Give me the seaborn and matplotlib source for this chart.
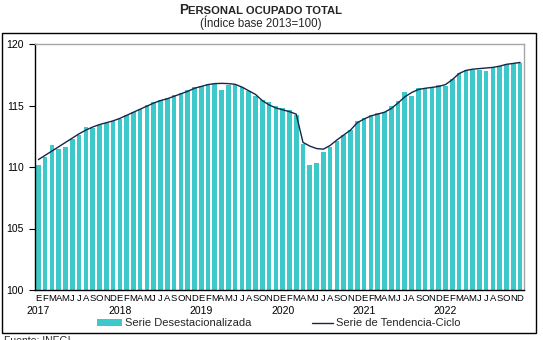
import matplotlib
matplotlib.use("Agg")
import matplotlib.pyplot as plt
import seaborn as sns
import numpy as np
import pandas as pd
from matplotlib.patches import Rectangle, Patch
from matplotlib.lines import Line2D

# Monthly data, January 2017 - December 2022 (index base 2013=100)
years = [2017, 2018, 2019, 2020, 2021, 2022]
month_letters = ["E", "F", "M", "A", "M", "J", "J", "A", "S", "O", "N", "D"]

serie_desestacionalizada = [
    110.2, 110.8, 111.8, 111.5, 111.6, 112.25, 112.6, 113.25, 113.2, 113.45, 113.6, 113.75,
    113.9, 114.2, 114.45, 114.7, 115.05, 115.3, 115.45, 115.6, 115.85, 116.0, 116.3, 116.5,
    116.6, 116.75, 116.75, 116.3, 116.7, 116.7, 116.5, 116.15, 115.8, 115.45, 115.25, 115.0,
    114.8, 114.65, 114.25, 111.9, 110.2, 110.3, 111.2, 111.65, 112.1, 112.6, 113.0, 113.75,
    114.0, 114.2, 114.4, 114.5, 114.95, 115.35, 116.1, 115.8, 116.45, 116.4, 116.45, 116.65,
    116.55, 117.15, 117.65, 117.88, 117.85, 117.9, 117.8, 118.1, 118.25, 118.35, 118.42, 118.48,
]

serie_tendencia_ciclo = [
    110.6, 110.95, 111.3, 111.65, 112.0, 112.35, 112.7, 113.0, 113.25, 113.45, 113.6, 113.75,
    113.95, 114.2, 114.45, 114.7, 114.95, 115.2, 115.4, 115.55, 115.75, 115.95, 116.15, 116.4,
    116.55, 116.7, 116.78, 116.8, 116.78, 116.72, 116.5, 116.2, 115.9, 115.4, 115.05, 114.8,
    114.65, 114.5, 114.3, 112.0, 111.7, 111.5, 111.45, 111.75, 112.2, 112.6, 113.0, 113.6,
    113.9, 114.15, 114.3, 114.45, 114.75, 115.2, 115.7, 116.05, 116.3, 116.4, 116.47, 116.55,
    116.7, 117.1, 117.6, 117.85, 117.95, 118.0, 118.05, 118.1, 118.2, 118.35, 118.42, 118.5,
]

y_ticks = [100, 105, 110, 115, 120]

BAR_COLOR = "#3DC9C9"
LINE_COLOR = "#15264A"

sns.set_theme(style="white")
plt.rcParams["font.family"] = ["Liberation Sans", "DejaVu Sans"]

W, H = 543, 340
fig = plt.figure(figsize=(W / 100, H / 100), dpi=100)
fig.patch.set_facecolor("white")

# plot area in pixel coordinates
left, right, top, bottom = 35, 523.5, 44, 290
ax = fig.add_axes([left / W, 1 - bottom / H, (right - left) / W, (bottom - top) / H])

n = len(serie_desestacionalizada)
df = pd.DataFrame({
    "mes": np.arange(n),
    "desest": serie_desestacionalizada,
    "tendencia": serie_tendencia_ciclo,
})

sns.barplot(data=df, x="mes", y="desest", color=BAR_COLOR, saturation=1,
            width=0.68, linewidth=0, ax=ax)
sns.lineplot(data=df, x="mes", y="tendencia", color=LINE_COLOR, linewidth=1.0, ax=ax)

ax.set_xlim(-0.5, n - 0.5)
ax.set_ylim(100, 120)
ax.set_yticks(y_ticks)
ax.set_yticklabels([str(v) for v in y_ticks], fontsize=7.5, color="black")
ax.set_xticks(np.arange(n))
ax.set_xticklabels(month_letters * len(years), fontsize=6.8, color="black")
ax.tick_params(axis="x", length=0, pad=3)
ax.tick_params(axis="y", direction="out", length=4, width=0.8, color="black", pad=4, left=True)
ax.set_xlabel("")
ax.set_ylabel("")
ax.grid(False)

for side in ["left", "bottom"]:
    ax.spines[side].set_color("black")
    ax.spines[side].set_linewidth(1.0)
for side in ["top", "right"]:
    ax.spines[side].set_color("#A6A6A6")
    ax.spines[side].set_linewidth(1.0)

# year labels under each January
for i, yr in enumerate(years):
    ax.annotate(str(yr), xy=(i * 12, 0), xycoords=("data", "axes fraction"),
                xytext=(0, -21.5), textcoords="offset pixels",
                ha="center", va="center", fontsize=7.5, color="black")

# title in small caps
renderer = fig.canvas.get_renderer()
base_y = 1 - 14.5 / H
t1 = fig.text(0, base_y, "P", fontsize=9.8, fontweight="bold", va="baseline")
t2 = fig.text(0, base_y, "ERSONAL OCUPADO TOTAL", fontsize=8.1, fontweight="bold", va="baseline")
w1 = t1.get_window_extent(renderer).width
w2 = t2.get_window_extent(renderer).width
x0 = 261 - (w1 + w2) / 2
t1.set_x(x0 / W)
t2.set_x((x0 + w1) / W)

fig.text(261 / W, 1 - 22.5 / H, "(Índice base 2013=100)", fontsize=8.3,
         ha="center", va="center")

# legends
leg1 = fig.legend(handles=[Patch(facecolor=BAR_COLOR, edgecolor="none")],
                  labels=["Serie Desestacionalizada"],
                  loc="center left", bbox_to_anchor=(97 / W, 1 - 323.5 / H),
                  frameon=False, fontsize=8, borderpad=0, borderaxespad=0,
                  handlelength=25 / 11.1, handleheight=6 / 11.1, handletextpad=0.3)
leg2 = fig.legend(handles=[Line2D([0], [0], color=LINE_COLOR, lw=1.0)],
                  labels=["Serie de Tendencia-Ciclo"],
                  loc="center left", bbox_to_anchor=(312 / W, 1 - 323.5 / H),
                  frameon=False, fontsize=8, borderpad=0, borderaxespad=0,
                  handlelength=21 / 11.1, handletextpad=0.25)

# outer frame
fig.patches.append(Rectangle((2 / W, 1 - 333 / H), (536 - 2) / W, (333 - 33) / H,
                             transform=fig.transFigure, fill=False,
                             edgecolor="black", linewidth=1.0))

fig.text(4 / W, 1 - 335.5 / H, "Fuente: INEGI.", fontsize=7.5, ha="left", va="top")

fig.savefig("out.png", dpi=100, facecolor="white")
